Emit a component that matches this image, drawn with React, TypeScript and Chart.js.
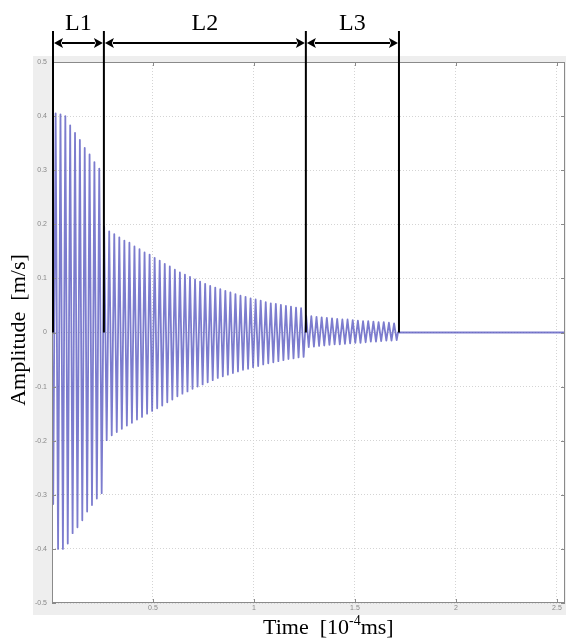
import React, { useEffect, useRef } from "react";
import { Chart, registerables } from "chart.js";

Chart.register(...registerables);

// Segment boundaries (time, 10^-4 ms) and labels
const segBounds = [0, 0.252, 1.252, 1.713];
const segLabels = ["L1", "L2", "L3"];
const xMax = 2.54;

// Peak (positive) and trough (negative) amplitudes read per cycle
const l1Troughs = [-0.317, -0.4, -0.4, -0.39, -0.371, -0.36, -0.347, -0.331, -0.319, -0.307, -0.297];
const l1Peaks = [0.405, 0.403, 0.4, 0.383, 0.369, 0.356, 0.341, 0.329, 0.315, 0.303];

const l2Peaks = [
  0.196, 0.187, 0.182, 0.176, 0.17, 0.166, 0.159, 0.154, 0.148, 0.144,
  0.138, 0.133, 0.127, 0.122, 0.116, 0.111, 0.107, 0.103, 0.098, 0.094,
  0.09, 0.086, 0.083, 0.08, 0.077, 0.074, 0.071, 0.068, 0.066, 0.063,
  0.061, 0.059, 0.056, 0.054, 0.053, 0.051, 0.049, 0.048, 0.046, 0.045,
];
const l2Troughs = [
  -0.199, -0.19, -0.184, -0.178, -0.172, -0.167, -0.161, -0.156, -0.15, -0.145,
  -0.14, -0.135, -0.129, -0.124, -0.118, -0.113, -0.109, -0.104, -0.1, -0.096,
  -0.092, -0.088, -0.084, -0.081, -0.078, -0.075, -0.072, -0.069, -0.067, -0.064,
  -0.062, -0.059, -0.057, -0.055, -0.053, -0.051, -0.049, -0.048, -0.046, -0.045,
];

const l3Peaks = [0.031, 0.03, 0.029, 0.028, 0.027, 0.026, 0.025, 0.024, 0.024, 0.023, 0.022, 0.021, 0.021, 0.02, 0.019, 0.019, 0.018, 0.017];
const l3Troughs = [-0.027, -0.026, -0.025, -0.024, -0.023, -0.022, -0.022, -0.021, -0.02, -0.019, -0.019, -0.018, -0.017, -0.017, -0.016, -0.015, -0.015, -0.014];

const xTicks = [0, 0.5, 1, 1.5, 2, 2.5];
const yTicks = [-0.5, -0.4, -0.3, -0.2, -0.1, 0, 0.1, 0.2, 0.3, 0.4, 0.5];

function interleave(first: number[], second: number[]): number[] {
  const out: number[] = [];
  const n = Math.max(first.length, second.length);
  for (let i = 0; i < n; i++) {
    if (i < first.length) out.push(first[i]);
    if (i < second.length) out.push(second[i]);
  }
  return out;
}

function buildPoints() {
  const segs = [
    interleave(l1Troughs, l1Peaks),
    interleave(l2Peaks, l2Troughs),
    interleave(l3Peaks, l3Troughs),
  ];
  const pts: { x: number; y: number }[] = [{ x: segBounds[0], y: 0 }];
  segs.forEach((vals, s) => {
    const a = segBounds[s];
    const b = segBounds[s + 1];
    const step = (b - a) / vals.length;
    vals.forEach((v, k) => pts.push({ x: a + (k + 0.5) * step, y: v }));
  });
  pts.push({ x: segBounds[3], y: 0 });
  pts.push({ x: xMax, y: 0 });
  return pts;
}

const SERIF = '"Liberation Serif", "Times New Roman", serif';

const decorPlugin = {
  id: "decor",
  beforeDraw(chart: any) {
    const { ctx, chartArea } = chart;
    ctx.save();
    ctx.fillStyle = "#ffffff";
    ctx.fillRect(0, 0, chart.width, chart.height);
    ctx.fillStyle = "#eeeeee";
    ctx.fillRect(33, 56, chart.width - 33, 615 - 56);
    ctx.fillStyle = "#ffffff";
    ctx.fillRect(chartArea.left, chartArea.top, chartArea.right - chartArea.left, chartArea.bottom - chartArea.top);
    ctx.restore();
  },
  afterDatasetsDraw(chart: any) {
    const { ctx, chartArea, scales } = chart;
    const { left, right, top, bottom } = chartArea;
    ctx.save();
    ctx.strokeStyle = "#8a8a8a";
    ctx.lineWidth = 1;
    ctx.strokeRect(left + 0.5, top + 0.5, right - left - 1, bottom - top - 1);
    ctx.beginPath();
    xTicks.forEach((v) => {
      const px = Math.round(scales.x.getPixelForValue(v)) + 0.5;
      ctx.moveTo(px, bottom);
      ctx.lineTo(px, bottom - 4);
      ctx.moveTo(px, top);
      ctx.lineTo(px, top + 4);
    });
    yTicks.forEach((v) => {
      const py = Math.round(scales.y.getPixelForValue(v)) + 0.5;
      ctx.moveTo(left, py);
      ctx.lineTo(left + 4, py);
      ctx.moveTo(right, py);
      ctx.lineTo(right - 4, py);
    });
    ctx.stroke();
    ctx.restore();
  },
  afterDraw(chart: any) {
    const { ctx, scales } = chart;
    const y0 = scales.y.getPixelForValue(0);
    const xs = segBounds.map((v) => scales.x.getPixelForValue(v) + 1);
    ctx.save();
    // vertical boundary lines
    ctx.strokeStyle = "#000";
    ctx.fillStyle = "#000";
    ctx.lineWidth = 2;
    xs.forEach((px) => {
      ctx.beginPath();
      ctx.moveTo(px, 31);
      ctx.lineTo(px, y0);
      ctx.stroke();
    });
    // double arrows
    const ay = 43;
    const ah = 9;
    const aw = 5;
    for (let i = 0; i < xs.length - 1; i++) {
      const a = xs[i] + 1;
      const b = xs[i + 1] - 1;
      ctx.beginPath();
      ctx.moveTo(a + ah - 1, ay);
      ctx.lineTo(b - ah + 1, ay);
      ctx.stroke();
      ctx.beginPath();
      ctx.moveTo(a, ay);
      ctx.lineTo(a + ah, ay - aw);
      ctx.lineTo(a + ah - 2, ay);
      ctx.lineTo(a + ah, ay + aw);
      ctx.closePath();
      ctx.fill();
      ctx.beginPath();
      ctx.moveTo(b, ay);
      ctx.lineTo(b - ah, ay - aw);
      ctx.lineTo(b - ah + 2, ay);
      ctx.lineTo(b - ah, ay + aw);
      ctx.closePath();
      ctx.fill();
      // label
      ctx.font = `24px ${SERIF}`;
      ctx.textAlign = "center";
      ctx.textBaseline = "alphabetic";
      ctx.fillText(segLabels[i], (xs[i] + xs[i + 1]) / 2, 30);
    }
    // axis titles
    ctx.fillStyle = "#000";
    ctx.font = `22px ${SERIF}`;
    ctx.save();
    ctx.translate(25, 330);
    ctx.rotate(-Math.PI / 2);
    ctx.textAlign = "center";
    ctx.textBaseline = "alphabetic";
    ctx.fillText("Amplitude  [m/s]", 0, 0);
    ctx.restore();

    ctx.textAlign = "left";
    ctx.textBaseline = "alphabetic";
    let tx = 263;
    const by = 634;
    const p1 = "Time  [10";
    ctx.fillText(p1, tx, by);
    tx += ctx.measureText(p1).width;
    ctx.font = `14px ${SERIF}`;
    const sup = "-4";
    ctx.fillText(sup, tx, by - 9);
    tx += ctx.measureText(sup).width;
    ctx.font = `22px ${SERIF}`;
    ctx.fillText("ms]", tx, by);
    ctx.restore();
  },
};

export default function App() {
  const ref = useRef<HTMLCanvasElement | null>(null);
  useEffect(() => {
    document.body.style.margin = "0";
    const canvas = ref.current;
    if (!canvas) return;
    const chart = new Chart(canvas, {
      type: "line",
      data: {
        datasets: [
          {
            data: buildPoints(),
            borderColor: "rgba(80,80,190,0.75)",
            borderWidth: 1.8,
            borderJoinStyle: "round",
            borderCapStyle: "round",
            pointRadius: 0,
            tension: 0,
            fill: false,
          },
        ],
      },
      options: {
        animation: false,
        responsive: false,
        devicePixelRatio: 1,
        layout: { padding: { left: 0, right: 1, top: 62, bottom: 0 } },
        plugins: { legend: { display: false }, tooltip: { enabled: false } },
        scales: {
          x: {
            type: "linear",
            min: 0,
            max: xMax,
            afterBuildTicks: (scale: any) => {
              scale.ticks = xTicks.map((v) => ({ value: v }));
            },
            afterFit: (scale: any) => {
              scale.height = 39;
            },
            ticks: {
              autoSkip: false,
              maxRotation: 0,
              padding: 1,
              color: "#888",
              font: { size: 7, family: "Arial, Liberation Sans, sans-serif" },
              callback: (v: any) => (v === 0 ? "" : String(Math.round(v * 10) / 10)),
            },
            grid: { color: "#d4d4d4", drawTicks: false },
            border: { display: false, dash: [1, 2] },
          },
          y: {
            type: "linear",
            min: -0.5,
            max: 0.5,
            afterBuildTicks: (scale: any) => {
              scale.ticks = yTicks.map((v) => ({ value: v }));
            },
            afterFit: (scale: any) => {
              scale.width = 52;
            },
            ticks: {
              autoSkip: false,
              padding: 5,
              color: "#888",
              font: { size: 7, family: "Arial, Liberation Sans, sans-serif" },
              callback: (v: any) => String(Math.round(v * 10) / 10),
            },
            grid: { color: "#d4d4d4", drawTicks: false },
            border: { display: false, dash: [1, 2] },
          },
        },
      },
      plugins: [decorPlugin],
    });
    return () => chart.destroy();
  }, []);
  return <canvas ref={ref} width={566} height={642} style={{ display: "block" }} />;
}
